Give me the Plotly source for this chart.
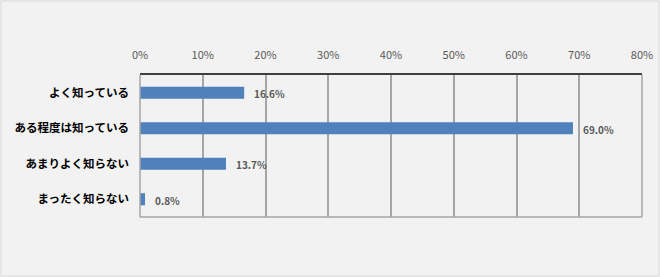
import plotly.graph_objects as go

categories = ["よく知っている", "ある程度は知っている", "あまりよく知らない", "まったく知らない"]
values = [0.166, 0.690, 0.137, 0.008]
tick_vals = [0, 0.1, 0.2, 0.3, 0.4, 0.5, 0.6, 0.7, 0.8]
tick_text = ["0%", "10%", "20%", "30%", "40%", "50%", "60%", "70%", "80%"]
label_text = [f"{v*100:.1f}%" for v in values]

FONT = "Noto Sans CJK JP"

fig = go.Figure(go.Bar(
    x=values, y=categories, orientation="h",
    marker=dict(color="#4f81bd", line=dict(width=0)),
    width=0.34,
    hoverinfo="skip",
))

for v, c, t in zip(values, categories, label_text):
    fig.add_annotation(x=v, y=c, text=t, showarrow=False, xanchor="left",
                       xshift=8, yshift=-1,
                       font=dict(family=FONT, size=10, color="#595959", weight="bold"))

W, H = 660, 277
ml, mr, mt, mb = 140, 18, 75, 60
pw = W - ml - mr
ph = H - mt - mb

fig.update_layout(
    width=W, height=H,
    margin=dict(l=ml, r=mr, t=mt, b=mb, autoexpand=False),
    paper_bgcolor="#f2f2f2", plot_bgcolor="#f2f2f2",
    showlegend=False,
    xaxis=dict(
        side="top", range=[0, 0.8], tickvals=tick_vals, ticktext=tick_text,
        showgrid=True, gridcolor="#a6a6a6", gridwidth=1.5,
        showline=True, linecolor="#404040", linewidth=1.5,
        ticks="", ticklabelstandoff=10, automargin=False,
        tickfont=dict(family=FONT, size=11, color="#595959"),
        zeroline=False, fixedrange=True,
    ),
    yaxis=dict(
        autorange="reversed", showgrid=False, zeroline=False,
        showline=False, ticks="", ticklabelstandoff=10, automargin=False,
        tickfont=dict(family=FONT, size=11.5, color="#000000", weight="bold"),
        fixedrange=True,
    ),
    shapes=[
        dict(type="line", xref="paper", yref="paper", x0=0, x1=1, y0=0, y1=0,
             line=dict(color="#a6a6a6", width=1.5)),
        dict(type="line", xref="paper", yref="paper", x0=1, x1=1, y0=0, y1=1,
             line=dict(color="#a6a6a6", width=1.5)),
        dict(type="line", xref="paper", yref="paper", x0=0, x1=0, y0=0, y1=1,
             line=dict(color="#a6a6a6", width=1.5)),
        dict(type="rect", xref="paper", yref="paper",
             x0=-(ml - 1) / pw, x1=1 + (mr - 1) / pw,
             y0=-(mb - 1) / ph, y1=1 + (mt - 1) / ph,
             line=dict(color="#d9d9d9", width=1)),
    ],
)

fig.write_html("out.html", config={"displayModeBar": False},
               post_script="document.body.style.margin='0px';document.body.style.overflow='hidden';")
